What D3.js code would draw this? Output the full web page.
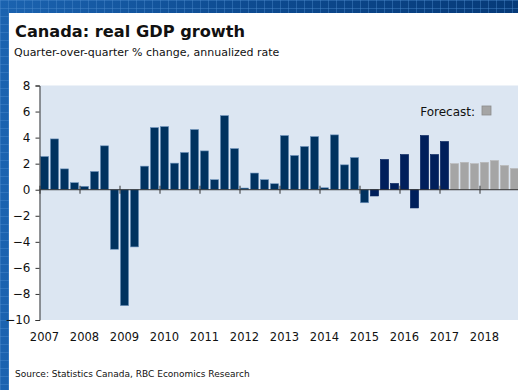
<!DOCTYPE html>
<html>
<head>
<meta charset="utf-8">
<script src="https://cdn.jsdelivr.net/npm/d3@7"></script>
<style>
  body { margin: 0; background: #fff; }
  svg { display: block; font-family: "DejaVu Sans", sans-serif; }
</style>
</head>
<body>
<div id="chart"></div>
<script>
// quarterly real GDP growth, 2007Q1 .. 2018Q4 (last 7 = forecast)
const years = ["2007", "2008", "2009", "2010", "2011", "2012", "2013", "2014", "2015", "2016", "2017", "2018"];
const growth = [
    2.55, 3.9, 1.6, 0.54,
    0.26, 1.4, 3.37, -4.57,
    -8.9, -4.39, 1.81, 4.77,
    4.85, 2.04, 2.86, 4.62,
    2.98, 0.77, 5.69, 3.16,
    0.13, 1.28, 0.77, 0.46,
    4.16, 2.63, 3.32, 4.08,
    0.15, 4.21, 1.91, 2.47,
    -1.0, -0.48, 2.32, 0.48,
    2.7, -1.4, 4.16, 2.7,
    3.7, 2.0, 2.1, 2.0,
    2.1, 2.24, 1.86, 1.63
];
const forecastFrom = 41;   // 2017Q2
const recentFrom = 33;     // 2015Q2, darker bars
const yTicks = [-10, -8, -6, -4, -2, 0, 2, 4, 6, 8];

const width = 518, height = 390;

const svg = d3.select("#chart").append("svg")
    .attr("width", width)
    .attr("height", height);

// blue patterned frame
const defs = svg.append("defs");
const grad = defs.append("linearGradient").attr("id", "frame")
    .attr("x1", 0).attr("y1", 0).attr("x2", 1).attr("y2", 0);
grad.append("stop").attr("offset", "0%").attr("stop-color", "#1b63b0");
grad.append("stop").attr("offset", "45%").attr("stop-color", "#0e4c92");
grad.append("stop").attr("offset", "100%").attr("stop-color", "#063a78");
const pat = defs.append("pattern").attr("id", "tiles")
    .attr("width", 8).attr("height", 8).attr("patternUnits", "userSpaceOnUse");
pat.append("path").attr("d", "M0 0.5H8M0.5 0V8")
    .attr("stroke", "#4f8fd0").attr("stroke-opacity", 0.4).attr("stroke-width", 1);

svg.append("rect").attr("width", width).attr("height", height).attr("fill", "url(#frame)");
svg.append("rect").attr("width", width).attr("height", height).attr("fill", "url(#tiles)");
svg.append("rect").attr("x", 9).attr("y", 13).attr("width", width - 9).attr("height", height - 13)
    .attr("fill", "#ffffff");

// titles
svg.append("text").attr("x", 15).attr("y", 37)
    .attr("font-size", 16.2).attr("font-weight", "bold").attr("fill", "#111")
    .text("Canada: real GDP growth");
svg.append("text").attr("x", 14).attr("y", 56)
    .attr("font-size", 11).attr("fill", "#111")
    .text("Quarter-over-quarter % change, annualized rate");

const x = d3.scaleLinear().domain([0, growth.length]).range([39.5, 519.5]);
const y = d3.scaleLinear().domain([-10, 8]).range([320, 85.5]);

svg.append("rect")
    .attr("x", x(0)).attr("y", y(8))
    .attr("width", width - x(0)).attr("height", y(-10) - y(8))
    .attr("fill", "#dce6f2");

// bars
svg.append("g").selectAll("rect")
    .data(growth)
    .join("rect")
    .attr("x", (d, i) => x(i) + 0.9)
    .attr("width", x(1) - x(0) - 1.8)
    .attr("y", d => y(Math.max(0, d)))
    .attr("height", d => Math.abs(y(d) - y(0)))
    .attr("fill", (d, i) => i >= forecastFrom ? "#a5a5a5" : (i >= recentFrom ? "#001f5b" : "#00325f"))
    .attr("stroke", (d, i) => i >= forecastFrom ? "#b8b8b8" : (i >= recentFrom ? "#001f5b" : "#6f94bd"))
    .attr("stroke-width", 0.6);

// y axis
const yAxis = svg.append("g")
    .attr("transform", "translate(" + x(0) + ",0)")
    .call(d3.axisLeft(y).tickValues(yTicks).tickSize(4).tickPadding(5));
yAxis.select(".domain").attr("stroke", "#333");
yAxis.selectAll(".tick line").attr("stroke", "#333");
yAxis.selectAll("text").attr("font-size", 12).attr("fill", "#111")
    .attr("font-family", "DejaVu Sans, sans-serif");

// zero line with year ticks crossing it
const xAxis = svg.append("g")
    .attr("transform", "translate(0," + y(0) + ")")
    .call(d3.axisBottom(x).tickValues(d3.range(0, growth.length + 1, 4)).tickSize(4).tickFormat(""));
xAxis.select(".domain").attr("stroke", "#333").attr("d", "M" + x(0) + ",0H" + width);
xAxis.selectAll(".tick line").attr("stroke", "#333").attr("y1", -4);

// year labels
svg.append("g").selectAll("text")
    .data(years)
    .join("text")
    .attr("x", (d, i) => x(i * 4) + 5)
    .attr("y", 341)
    .attr("text-anchor", "middle")
    .attr("font-size", 11.5)
    .attr("fill", "#111")
    .text(d => d);

// legend
svg.append("text").attr("x", 475).attr("y", 116)
    .attr("text-anchor", "end").attr("font-size", 12).attr("fill", "#111")
    .text("Forecast:");
svg.append("rect").attr("x", 482).attr("y", 106).attr("width", 9).attr("height", 9)
    .attr("fill", "#a5a5a5").attr("stroke", "#8c8c8c").attr("stroke-width", 0.8);

// source
svg.append("text").attr("x", 15).attr("y", 377)
    .attr("font-size", 9).attr("fill", "#111")
    .text("Source: Statistics Canada, RBC Economics Research");
</script>
</body>
</html>
